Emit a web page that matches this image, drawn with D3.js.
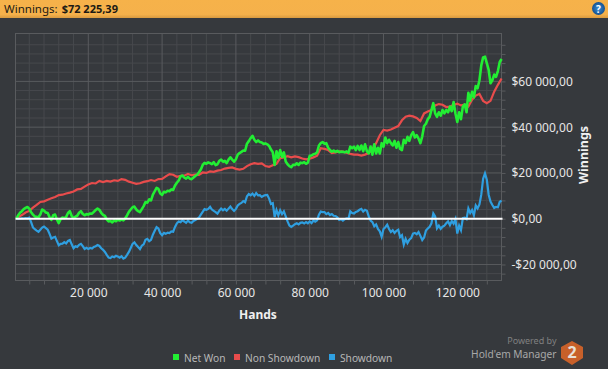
<!DOCTYPE html>
<html>
<head>
<meta charset="utf-8">
<script src="https://cdn.jsdelivr.net/npm/d3@7"></script>
<style>
  html, body { margin: 0; padding: 0; background: #36393d; }
  svg { display: block; }
  text { font-family: "Noto Sans", sans-serif; }
</style>
</head>
<body>
<svg id="chart" width="608" height="369"></svg>
<script>
'use strict';

const title = 'Winnings:';
const total = '$72 225,39';

const xMajor = [20000, 40000, 60000, 80000, 100000, 120000];
const xMinor = [4000, 8000, 12000, 16000, 24000, 28000, 32000, 36000, 44000, 48000, 52000, 56000, 64000, 68000, 72000, 76000, 84000, 88000, 92000, 96000, 104000, 108000, 112000, 116000, 124000, 128000];
const yMajor = [-20000, 0, 20000, 40000, 60000];
const yMinor = [-24000, -16000, -12000, -8000, -4000, 4000, 8000, 12000, 16000, 24000, 28000, 32000, 36000, 44000, 48000, 52000, 56000, 64000, 68000, 72000, 76000];

// sampled every 500 hands
const netWon = [0,1500,2600,3300,4200,4700,5100,4400,2800,1800,1000,800,700,1800,4000,3500,2700,2500,700,-500,1500,1800,-300,-1900,-200,500,200,800,2500,3300,1200,200,900,1300,2600,3300,2100,1500,2000,1800,2300,2200,3000,3800,4400,3900,2600,1700,1200,-300,-1200,-1000,-1600,-700,-1100,-400,-800,-300,-700,100,1500,3000,4000,5000,5300,4000,3300,2900,4200,5500,7300,7000,8500,8000,10500,12000,13500,13000,11000,10400,11800,11500,12200,12000,12800,12600,14500,15700,16700,18500,18900,18000,17500,18300,17500,17300,18000,18700,19200,20300,21500,23500,24400,24000,24600,24300,23800,24700,23400,23800,25300,25800,24900,25300,24300,25800,26800,25800,24900,26000,28000,28700,29200,29800,29700,32800,33900,35200,36200,34500,33500,34200,33500,33300,32700,32900,32500,31800,30200,29000,23500,29500,26500,30000,27000,29000,25000,23800,23000,22500,23600,23500,24200,23500,24500,24300,24700,24000,24500,27500,27600,28200,28400,29000,32000,33000,33500,32800,33000,31000,30000,29300,29800,29200,29700,29100,29300,29200,29000,29400,28800,31500,30800,31500,30000,31800,30000,32000,29500,32500,29500,28500,31500,28000,32500,28500,31000,28500,33000,31500,35500,33000,34500,33000,32000,34000,31000,33500,30500,30000,34500,33000,35800,34000,36500,37800,35500,36500,35000,33000,36000,40500,41500,43500,44500,47500,50500,46000,44500,46500,45000,47500,46000,47500,46500,49000,47000,51000,46000,42300,46500,43500,49000,50000,46500,55000,51500,55500,53000,58000,57000,60500,67000,70500,70800,68000,65000,59200,60500,63000,62000,64500,68500,69800];

const showdown = [0,100,0,200,100,300,200,500,-1500,-3800,-4600,-5200,-5700,-4800,-3900,-3400,-4100,-4800,-6600,-8700,-8200,-7900,-9800,-11600,-11000,-10900,-10200,-10800,-9700,-9300,-11200,-12900,-12000,-12300,-11400,-11000,-12000,-13200,-12700,-13200,-12800,-13000,-12300,-12000,-11500,-11900,-12900,-13600,-14500,-15800,-17000,-17200,-16500,-16800,-16200,-16500,-17000,-16400,-17400,-17000,-15800,-14500,-12800,-11000,-10300,-11500,-12400,-13300,-11800,-11200,-9200,-8800,-9800,-9200,-7000,-5300,-3700,-4300,-6300,-7200,-6200,-6600,-6100,-6300,-5600,-5700,-3600,-2000,-1200,-1500,-700,-1200,-1800,-800,-1600,-1800,-1000,-600,-100,500,1800,3000,4200,3900,4300,5200,4000,3400,2900,2200,3500,4400,3700,4300,3500,4400,5300,4200,3400,4300,5800,6500,6900,7700,7200,9800,10800,10200,11000,10000,11200,10200,10300,9500,10000,10300,10400,8800,6400,6800,800,3800,1500,3700,2000,3200,1000,-1200,-3000,-3600,-3000,-2400,-2000,-2500,-1800,-1600,-2100,-1500,-2000,-1200,-1900,-800,-1300,-700,1800,3100,2900,2900,2000,2500,1600,2000,1300,1200,600,-500,-200,-800,-200,100,-100,3200,2500,2300,3000,3300,3900,4300,3100,3900,3500,1000,-800,-1500,-3300,-2500,-4500,-5500,-7900,-4500,-3700,-2600,-4500,-5800,-5000,-6200,-5300,-4800,-8000,-7200,-11300,-8800,-10600,-9200,-8500,-6500,-6200,-6800,-5800,-7500,-9300,-8200,-5200,-4300,-3500,-2000,2300,1000,-4200,-3000,-4400,-3500,-3000,-2000,-1200,-2800,-1000,-2200,-200,-6500,-3000,-5000,200,400,-200,4500,2500,3800,1500,5800,4500,6200,10500,17500,19800,17000,10500,7500,6000,4700,5200,5000,7400,7900];

// sampled every 1000 hands
const nonShowdown = [700,1600,2700,3400,4800,6000,7300,7600,8300,8900,9500,10300,10500,11000,11400,11900,12800,13000,14000,15000,15600,15400,16500,16000,16500,16200,16800,16500,17300,17000,16200,15700,15200,15500,16100,16400,16900,16500,17300,17400,18500,19500,19200,18300,18700,18800,19600,19000,19300,19200,20200,20000,20700,20500,21000,21300,21900,22200,22400,21800,21500,21800,23000,23800,24300,24000,24200,23000,22700,23400,24000,26500,26800,27300,26800,27200,26900,26300,25900,26200,26800,27500,30800,30500,30000,28700,29000,29400,29300,28800,28300,28000,28000,27600,28000,28700,30500,33000,36500,38800,38500,39000,39700,40500,43000,44600,45000,44700,44000,42700,46000,46800,47500,49500,50100,49800,48800,49000,49700,50300,49500,49800,49000,52000,53800,54500,51500,50500,51500,55500,58500,61300];

const handsFine = d3.range(500, 132500, 500);
const handsCoarse = d3.range(1000, 133000, 1000);

const legendItems = ['Net Won', 'Non Showdown', 'Showdown'];
const legendColors = ['#22ee33', '#e84c4c', '#2f9fe0'];

const svg = d3.select('#chart');

// header bar
const defs = svg.append('defs');
const headGrad = defs.append('linearGradient').attr('id', 'head').attr('x2', 0).attr('y2', 1);
headGrad.append('stop').attr('offset', '0%').attr('stop-color', '#f6b24a');
headGrad.append('stop').attr('offset', '80%').attr('stop-color', '#f5b14b');
headGrad.append('stop').attr('offset', '100%').attr('stop-color', '#d89a40');
svg.append('rect').attr('width', 608).attr('height', 18).attr('fill', 'url(#head)');

const headText = svg.append('text').attr('x', 4).attr('y', 13).attr('font-size', 11.5).attr('fill', '#1c1a14');
headText.append('tspan').text(title);
headText.append('tspan').attr('dx', 4).attr('font-weight', 'bold').attr('font-size', 11).text(total);

const helpGrad = defs.append('radialGradient').attr('id', 'help');
helpGrad.append('stop').attr('offset', '0%').attr('stop-color', '#3d8fd6');
helpGrad.append('stop').attr('offset', '100%').attr('stop-color', '#14508f');
svg.append('circle').attr('cx', 598.5).attr('cy', 8.5).attr('r', 6.5).attr('fill', 'url(#help)');
svg.append('text').attr('x', 598.5).attr('y', 12.5).attr('text-anchor', 'middle')
    .attr('font-size', 10).attr('font-weight', 'bold').attr('fill', '#fff').text('?');

// scales
const plot = { left: 15.5, right: 501.5, top: 33.5, bottom: 280.5 };
const x = d3.scaleLinear().domain([270, 131980]).range([plot.left, plot.right]);
const y = d3.scaleLinear().domain([-27000, 80930]).range([plot.bottom, plot.top]);

// grid
const grid = svg.append('g');
function gridLines(values, color) {
  grid.selectAll(null).data(values).enter().append('line')
      .attr('x1', d => x(d)).attr('x2', d => x(d))
      .attr('y1', plot.top).attr('y2', plot.bottom)
      .attr('stroke', color);
}
function gridRows(values, color) {
  grid.selectAll(null).data(values).enter().append('line')
      .attr('x1', plot.left).attr('x2', plot.right)
      .attr('y1', d => y(d)).attr('y2', d => y(d))
      .attr('stroke', color);
}
gridLines(xMinor, '#47494d');
gridRows(yMinor, '#47494d');
gridLines(xMajor, '#595b5e');
gridRows(yMajor, '#595b5e');
svg.append('rect')
    .attr('x', plot.left).attr('y', plot.top)
    .attr('width', plot.right - plot.left).attr('height', plot.bottom - plot.top)
    .attr('fill', 'none').attr('stroke', '#595b5e');

// axes
const fmt = d3.formatLocale({ decimal: ',', thousands: ' ', grouping: [3], currency: ['$', ''], minus: '-' });
const xAxis = d3.axisBottom(x)
    .tickValues(xMinor.concat(xMajor))
    .tickSize(4)
    .tickPadding(4)
    .tickFormat(d => xMajor.includes(d) ? fmt.format(',')(d) : '');
const yAxis = d3.axisRight(y)
    .tickValues(yMinor.concat(yMajor))
    .tickSize(4)
    .tickPadding(6)
    .tickFormat(d => yMajor.includes(d) ? fmt.format('$,.2f')(d) : '');

function styleAxis(g) {
  g.select('.domain').remove();
  g.selectAll('line').attr('stroke', '#595b5e');
  g.selectAll('text').attr('fill', '#e6e6e6').attr('font-size', 12).attr('font-family', '"Noto Sans", sans-serif');
}
svg.append('g').attr('transform', `translate(0,${plot.bottom})`).call(xAxis).call(styleAxis);
svg.append('g').attr('transform', `translate(${plot.right},0)`).call(yAxis).call(styleAxis);

svg.append('text').attr('x', 258).attr('y', 319).attr('text-anchor', 'middle')
    .attr('font-size', 12).attr('font-weight', 'bold').attr('fill', '#f0f0f0').text('Hands');
svg.append('text').attr('transform', 'translate(588,155) rotate(-90)').attr('text-anchor', 'middle')
    .attr('font-size', 12.5).attr('font-weight', 'bold').attr('fill', '#f0f0f0').text('Winnings');

// series
const line = d3.line().x(d => x(d[0])).y(d => y(d[1]));
svg.append('path').datum(d3.zip(handsFine, showdown))
    .attr('d', line).attr('fill', 'none').attr('stroke', legendColors[2]).attr('stroke-width', 2.2);
svg.append('path').datum(d3.zip(handsCoarse, nonShowdown))
    .attr('d', line).attr('fill', 'none').attr('stroke', legendColors[1]).attr('stroke-width', 2.2);
svg.append('path').datum(d3.zip(handsFine, netWon))
    .attr('d', line).attr('fill', 'none').attr('stroke', legendColors[0]).attr('stroke-width', 2.6)
    .attr('stroke-linejoin', 'round');

// zero line
svg.append('line').attr('x1', plot.left).attr('x2', plot.right + 1)
    .attr('y1', y(0)).attr('y2', y(0)).attr('stroke', '#fff').attr('stroke-width', 2);

// legend
const legendX = [173, 234, 329];
const legend = svg.selectAll('.legend').data(legendItems).enter().append('g')
    .attr('class', 'legend').attr('transform', (d, i) => `translate(${legendX[i]},354)`);
legend.append('rect').attr('width', 6).attr('height', 6).attr('fill', (d, i) => legendColors[i]);
legend.append('text').attr('x', 11).attr('y', 7.5).attr('font-size', 10.2).attr('fill', '#b8b8b8').text(d => d);

// powered by
svg.append('text').attr('x', 556.5).attr('y', 344).attr('text-anchor', 'end')
    .attr('font-size', 9).attr('fill', '#808080').text('Powered by');
svg.append('text').attr('x', 556.5).attr('y', 358).attr('text-anchor', 'end')
    .attr('font-size', 10.2).attr('fill', '#a8a8a8').text("Hold'em Manager");
svg.append('path').attr('d', 'M572 341 L583 347 L583 358 L572 365 L561 358 L561 347 Z').attr('fill', '#c8602a');
svg.append('text').attr('x', 572).attr('y', 358).attr('text-anchor', 'middle')
    .attr('font-size', 16).attr('font-weight', 'bold').attr('fill', '#e8e0d8').text('2');
</script>
</body>
</html>
